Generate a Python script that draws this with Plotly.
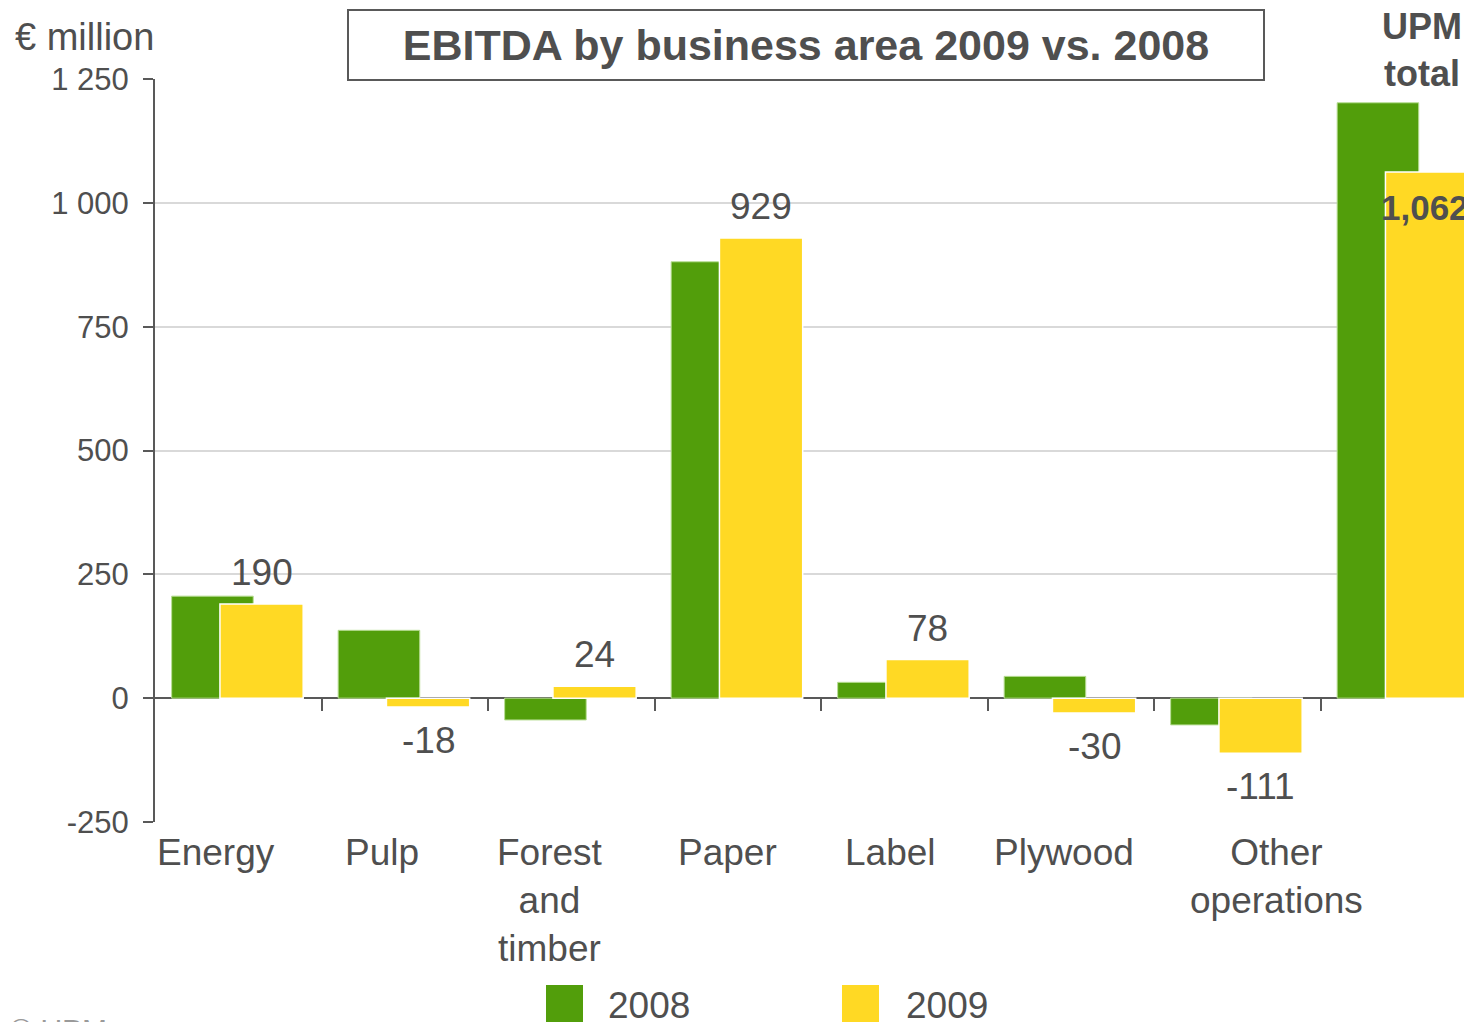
import plotly.graph_objects as go

# ---------------- data ----------------
categories = ["Energy", "Pulp", "Forest<br>and<br>timber", "Paper", "Label",
              "Plywood", "Other<br>operations", "UPM<br>total"]
ebitda_2008 = [206, 137, -44, 881, 32, 44, -54, 1202]
ebitda_2009 = [190, -18, 24, 929, 78, -30, -111, 1062]
labels_2009 = ["190", "-18", "24", "929", "78", "-30", "-111", "1,062"]
y_tickvals = [-250, 0, 250, 500, 750, 1000, 1250]
y_ticktext = ["-250", "0", "250", "500", "750", "1 000", "1 250"]
series_names = ["2008", "2009"]

# ---------------- style ----------------
TEXT = "#4F4F4F"
AXIS = "#595959"
GRID = "#D9D9D9"
GREEN = "#529E0B"
YELLOW = "#FFD924"
FONT = "Liberation Sans, Arial, sans-serif"

OFF = 8  # page body margin
W, H = 1472 - OFF, 1022 - OFF
ML, MR, MT = 155 - OFF, 0, 79 - OFF
MB = H - (822 - OFF)
PW, PH = W - ML - MR, H - MT - MB


def px_x(px):
    return (px - OFF - ML) / PW


def px_y(py):
    return (H - MB - (py - OFF)) / PH


xs = list(range(len(categories)))
label_shift = [-22, -23, -21, -10, -14, -7, 39]
W08, OFF08 = 0.49, -0.40
W09, OFF09 = 0.50, -0.11

fig = go.Figure()
fig.add_bar(x=xs, y=ebitda_2008, name=series_names[0], width=W08, offset=OFF08,
            marker=dict(color=GREEN, line=dict(color="#B9DE95", width=1)),
            showlegend=False, hoverinfo="skip")
fig.add_bar(x=xs, y=ebitda_2009, name=series_names[1], width=W09, offset=OFF09,
            marker=dict(color=YELLOW, line=dict(color="white", width=1.5)),
            showlegend=False, hoverinfo="skip")

annotations = []
# 2009 value labels
n = len(categories)
for i, (v, t) in enumerate(zip(ebitda_2009, labels_2009)):
    xc = xs[i] + OFF09 + W09 / 2
    if i == n - 1:
        annotations.append(dict(x=xc, y=v, xref="x", yref="y", yanchor="top",
                                yshift=-14, xshift=-2, text="<b>" + t + "</b>",
                                showarrow=False,
                                font=dict(size=35, color=TEXT, family=FONT)))
    elif v >= 0:
        annotations.append(dict(x=xc, y=v, xref="x", yref="y", yanchor="bottom",
                                yshift=9, text=t, showarrow=False,
                                font=dict(size=37, color=TEXT, family=FONT)))
    else:
        annotations.append(dict(x=xc, y=v, xref="x", yref="y", yanchor="top",
                                yshift=-11, text=t, showarrow=False,
                                font=dict(size=37, color=TEXT, family=FONT)))
# category labels (except UPM total which sits at top)
for i in range(n - 1):
    annotations.append(dict(x=xs[i], xref="x", y=0, yref="paper", yanchor="top",
                            yshift=-8, xshift=label_shift[i], text=categories[i],
                            showarrow=False, font=dict(size=37, color=TEXT, family=FONT)))
annotations.append(dict(x=px_x(1464), xref="paper", xanchor="right",
                        y=px_y(50), yref="paper", yanchor="middle",
                        text="<b>" + categories[-1] + "</b>", showarrow=False,
                        font=dict(size=36, color=TEXT, family=FONT)))
# unit label
annotations.append(dict(x=px_x(156), xref="paper", xanchor="right",
                        y=px_y(37), yref="paper", yanchor="middle",
                        text="€ million", showarrow=False,
                        font=dict(size=38, color=TEXT, family=FONT)))
# title box
annotations.append(dict(x=px_x(806), xref="paper", xanchor="center",
                        y=px_y(45), yref="paper", yanchor="middle",
                        text="<b>EBITDA by business area 2009 vs. 2008</b>",
                        showarrow=False, width=912, height=66, borderpad=1,
                        bordercolor=AXIS, borderwidth=2, bgcolor="white",
                        font=dict(size=43, color=TEXT, family=FONT)))
# legend text
for name, left in zip(series_names, [606, 904]):
    annotations.append(dict(x=px_x(left), xref="paper", xanchor="left",
                            y=px_y(1005), yref="paper", yanchor="middle",
                            text=name, showarrow=False,
                            font=dict(size=37, color=TEXT, family=FONT)))
# copyright
annotations.append(dict(x=px_x(8), xref="paper", xanchor="left",
                        y=px_y(1011), yref="paper", yanchor="top",
                        text="© UPM", showarrow=False,
                        font=dict(size=30, color="#9A9A9A", family=FONT)))

shapes = []
for color, left in zip([GREEN, YELLOW], [546, 842]):
    shapes.append(dict(type="rect", xref="paper", yref="paper",
                       x0=px_x(left), x1=px_x(left + 37),
                       y0=px_y(985), y1=px_y(1026),
                       fillcolor=color, line=dict(width=0)))

fig.update_layout(
    width=W, height=H,
    margin=dict(l=ML, r=MR, t=MT, b=MB),
    barmode="overlay",
    plot_bgcolor="white", paper_bgcolor="white",
    font=dict(family=FONT, color=TEXT),
    annotations=annotations, shapes=shapes,
    xaxis=dict(range=[-0.5, -0.5 + PW / 166.5], showgrid=False, zeroline=False,
               showline=False, tickvals=[i + 0.5 for i in xs[:-1]],
               ticks="outside", ticklen=12, tickwidth=2, tickcolor=AXIS,
               showticklabels=False, anchor="free",
               position=(0 - y_tickvals[0]) / (y_tickvals[-1] - y_tickvals[0])),
    yaxis=dict(range=[y_tickvals[0], y_tickvals[-1]], tickvals=y_tickvals,
               ticktext=y_ticktext, showgrid=True, gridcolor=GRID, gridwidth=1.5,
               zeroline=True, zerolinecolor=AXIS, zerolinewidth=2,
               showline=True, linecolor=AXIS, linewidth=2,
               ticks="outside", ticklen=10, tickwidth=2, tickcolor=AXIS,
               ticklabelstandoff=8,
               tickfont=dict(size=31, color=TEXT, family=FONT)),
)

fig.write_html("out.html")
